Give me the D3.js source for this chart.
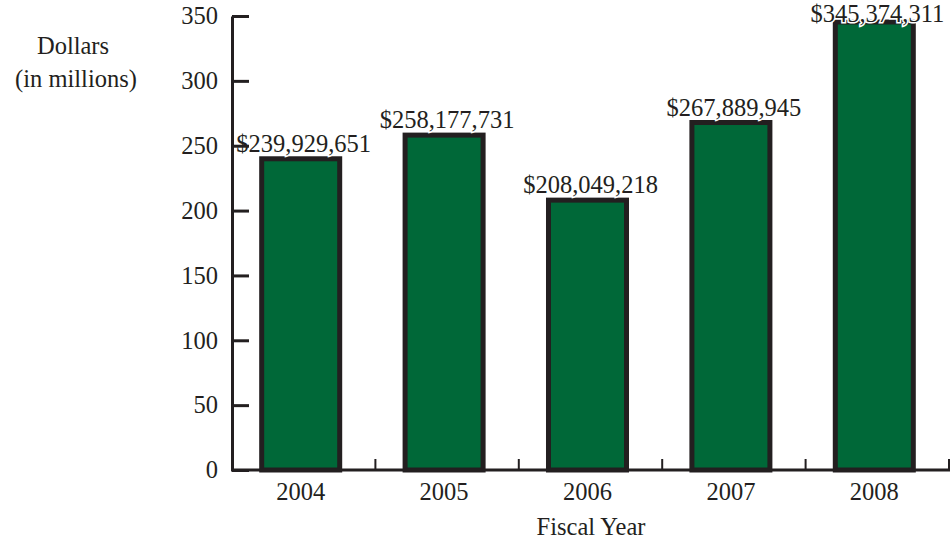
<!DOCTYPE html>
<html>
<head>
<meta charset="utf-8">
<script src="https://cdn.jsdelivr.net/npm/d3@7"></script>
<style>
  html, body { margin: 0; padding: 0; background: #fff; }
  svg { display: block; }
  text { font-family: "Liberation Serif", "DejaVu Serif", serif; fill: #231f20; }
</style>
</head>
<body>
<svg id="chart" width="950" height="541"></svg>
<script>
const years = ["2004", "2005", "2006", "2007", "2008"];
const dollars = [239929651, 258177731, 208049218, 267889945, 345374311];
const yTicks = [0, 50, 100, 150, 200, 250, 300, 350];
const yTitle = ["Dollars", "(in millions)"];
const xTitle = "Fiscal Year";

const svg = d3.select("#chart");
const ink = "#231f20";
const green = "#006838";
const fs = 24.5;

const x = d3.scaleBand().domain(years).range([232, 949]).paddingInner(0.456).paddingOuter(0.228);
const y = d3.scaleLinear().domain([0, 350]).range([470, 16]);
const fmt = d3.format("$,");

// bars
svg.append("g").selectAll("rect").data(years).join("rect")
  .attr("x", d => x(d) - 3)
  .attr("width", x.bandwidth())
  .attr("y", (d, i) => y(dollars[i] / 1e6))
  .attr("height", (d, i) => y(0) - y(dollars[i] / 1e6))
  .attr("fill", green)
  .attr("stroke", ink)
  .attr("stroke-width", 5);

// value labels (white halo keeps them readable where they touch a bar)
svg.append("g").selectAll("text").data(years).join("text")
  .attr("x", d => x(d) + x.bandwidth() / 2)
  .attr("y", (d, i) => Math.max(y(dollars[i] / 1e6) - 7, 22))
  .attr("text-anchor", "middle")
  .attr("font-size", fs)
  .attr("stroke", "#fff")
  .attr("stroke-width", 3)
  .attr("paint-order", "stroke")
  .text((d, i) => fmt(dollars[i]));

// y axis
const yAxis = d3.axisLeft(y).tickValues(yTicks).tickSize(-17).tickPadding(31).tickSizeOuter(0);
const gy = svg.append("g").attr("transform", "translate(232,0)").call(yAxis);
gy.select(".domain").attr("stroke", ink).attr("stroke-width", 3);
gy.selectAll(".tick line").attr("stroke", ink).attr("stroke-width", 3);
gy.selectAll(".tick text").attr("font-size", fs).attr("font-family", "Liberation Serif").attr("fill", ink).attr("dx", 17);

// x axis line + ticks at band boundaries
const xb = svg.append("g");
xb.append("line").attr("x1", 231).attr("x2", 950).attr("y1", y(0)).attr("y2", y(0))
  .attr("stroke", ink).attr("stroke-width", 3);
xb.selectAll("line.t").data(years).join("line").attr("class", "t")
  .attr("x1", d => x(d) + x.step() * (1 - 0.228) ).attr("x2", d => x(d) + x.step() * (1 - 0.228))
  .attr("y1", y(0)).attr("y2", y(0) - 11)
  .attr("stroke", ink).attr("stroke-width", 2);

// x labels
svg.append("g").selectAll("text").data(years).join("text")
  .attr("x", d => x(d) + x.bandwidth() / 2 - 3)
  .attr("y", 500)
  .attr("text-anchor", "middle")
  .attr("font-size", fs)
  .text(d => d);

svg.append("text").attr("x", 591).attr("y", 535).attr("text-anchor", "middle")
  .attr("font-size", fs).text(xTitle);

svg.append("text").attr("x", 73).attr("y", 54).attr("text-anchor", "middle")
  .attr("font-size", fs).text(yTitle[0]);
svg.append("text").attr("x", 76).attr("y", 87).attr("text-anchor", "middle")
  .attr("font-size", fs).text(yTitle[1]);
</script>
</body>
</html>
